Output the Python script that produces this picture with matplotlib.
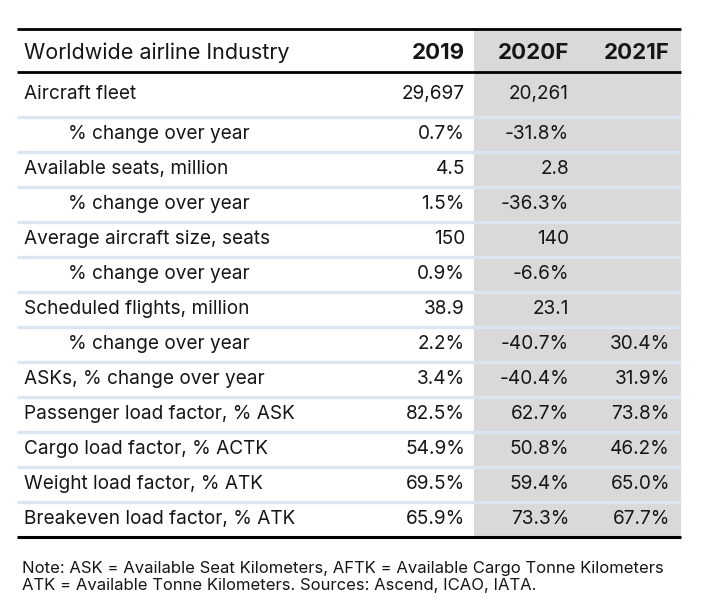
import matplotlib
matplotlib.use("Agg")
import matplotlib.pyplot as plt
from matplotlib.patches import Rectangle

plt.rcParams['font.family'] = ['Inter', 'DejaVu Sans']

# table content
title = "Worldwide airline Industry"
years = ["2019", "2020F", "2021F"]
labels = [
    "Aircraft fleet",
    "% change over year",
    "Available seats, million",
    "% change over year",
    "Average aircraft size, seats",
    "% change over year",
    "Scheduled flights, million",
    "% change over year",
    "ASKs, % change over year",
    "Passenger load factor, % ASK",
    "Cargo load factor, % ACTK",
    "Weight load factor, % ATK",
    "Breakeven load factor, % ATK",
]
indented = [False, True, False, True, False, True, False, True,
            False, False, False, False, False]
val_2019 = ["29,697", "0.7%", "4.5", "1.5%", "150", "0.9%", "38.9", "2.2%",
            "3.4%", "82.5%", "54.9%", "69.5%", "65.9%"]
val_2020 = ["20,261", "-31.8%", "2.8", "-36.3%", "140", "-6.6%", "23.1", "-40.7%",
            "-40.4%", "62.7%", "50.8%", "59.4%", "73.3%"]
val_2021 = ["", "", "", "", "", "", "", "30.4%",
            "31.9%", "73.8%", "46.2%", "65.0%", "67.7%"]
note = ("Note: ASK = Available Seat Kilometers, AFTK = Available Cargo Tonne Kilometers\n"
        "ATK = Available Tonne Kilometers. Sources: Ascend, ICAO, IATA.")

W, H = 723, 612
fig = plt.figure(figsize=(W / 100, H / 100), dpi=100)
ax = fig.add_axes([0, 0, 1, 1])
ax.set_xlim(0, W)
ax.set_ylim(H, 0)
ax.axis("off")

ink = "#161616"
left, right = 17, 681
top, head_bot, bottom = 29, 72, 537
gray_x = 474

ax.add_patch(Rectangle((gray_x, top), right - gray_x, bottom - top,
                       facecolor="#d9d9d9", edgecolor="none", zorder=0))

# row separators
first_sep = 117
step = 35
for k in range(len(labels) - 1):
    y = first_sep + k * step
    ax.plot([left, right], [y, y], color="#dce6f2", lw=2.4, zorder=1,
            solid_capstyle="butt")

for y, lw in [(top, 2.0), (head_bot, 2.0), (bottom, 2.2)]:
    ax.plot([left, right], [y, y], color="black", lw=lw, zorder=2,
            solid_capstyle="butt")

col_x = [465, 569, 670]
fs = 13.7
ax.text(24, 59, title, fontsize=15.5, va="baseline", ha="left", color=ink)
for x, yr in zip(col_x, years):
    ax.text(x, 59, yr, fontsize=16, fontweight="bold", va="baseline", ha="right",
            color=ink)

row_y = [99] + [139 + step * k for k in range(len(labels) - 1)]
for i, lab in enumerate(labels):
    y = row_y[i]
    ax.text(68 if indented[i] else 24, y, lab, fontsize=fs, va="baseline",
            ha="left", color=ink)
    for x, col in zip(col_x, [val_2019, val_2020, val_2021]):
        if col[i]:
            ax.text(x, y, col[i], fontsize=fs, va="baseline", ha="right", color=ink)

ax.text(22, 577, note, fontsize=12, va="center", ha="left", linespacing=1.2,
        color=ink)

fig.savefig("out.png", dpi=100)
